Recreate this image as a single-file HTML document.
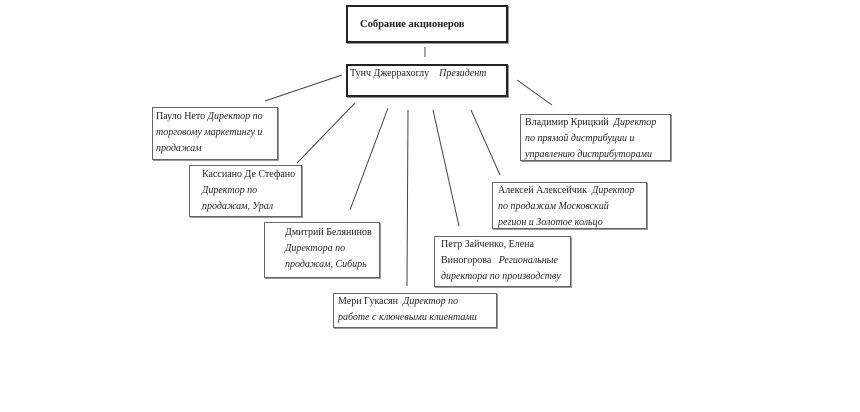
<!DOCTYPE html>
<html><head><meta charset="utf-8"><style>
body{margin:0;width:860px;height:412px;background:#fff;position:relative;overflow:hidden;font-family:"Liberation Serif","Noto Serif CJK SC",serif;color:#222}
.b{position:absolute;border:1px solid #666;box-sizing:border-box;font-size:10px;line-height:16px;padding:1px 3px;box-shadow:1px 1px 0 #999;white-space:nowrap}
i{font-style:italic}
svg{position:absolute;left:0;top:0}
</style></head><body>
<svg width="860" height="412"><g stroke="#444" stroke-width="1" fill="none">
<line x1="425" y1="47" x2="425" y2="57"/>
<line x1="342" y1="75" x2="265" y2="101"/>
<line x1="355" y1="103" x2="297" y2="163"/>
<line x1="388" y1="108" x2="350" y2="210"/>
<line x1="408" y1="110" x2="407" y2="286"/>
<line x1="433" y1="110" x2="459" y2="226"/>
<line x1="471" y1="110" x2="500" y2="175"/>
<line x1="517" y1="80" x2="552" y2="105"/>
</g></svg>
<div class="b" style="left:346px;top:5px;width:162px;height:38px;border:2px solid #222;font-weight:bold;font-size:10.5px;padding:10px 0 0 12px">Собрание акционеров</div>
<div class="b" style="left:346px;top:64px;width:162px;height:33px;border:2px solid #222;padding:0 2px">Тунч Джеррахоглу &nbsp;&nbsp; <i>Президент</i></div>
<div class="b" style="left:152px;top:107px;width:126px;height:53px;padding:1px 3px">Пауло Нето <i>Директор по<br>торговому маркетингу и<br>продажам</i></div>
<div class="b" style="left:189px;top:165px;width:113px;height:52px;padding:1px 0 0 12px">Кассиано Де Стефано<br><i>Директор по<br>продажам, Урал</i></div>
<div class="b" style="left:264px;top:222px;width:116px;height:56px;padding:2px 0 0 20px">Дмитрий Белянинов<br><i>Директора по<br>продажам, Сибирь</i></div>
<div class="b" style="left:333px;top:293px;width:164px;height:35px;padding:0 4px">Мери Гукасян &nbsp;<i>Директор по<br>работе с ключевыми клиентами</i></div>
<div class="b" style="left:434px;top:236px;width:137px;height:51px;padding:0 6px">Петр Зайченко, Елена<br>Виногорова &nbsp; <i>Региональные<br>директора по производству</i></div>
<div class="b" style="left:492px;top:182px;width:155px;height:47px;padding:0 5px">Алексей Алексейчик &nbsp;<i>Директор<br>по продажам Московский<br>регион и Золотое кольцо</i></div>
<div class="b" style="left:520px;top:114px;width:151px;height:47px;padding:0 4px">Владимир Крицкий &nbsp;<i>Директор<br>по прямой дистрибуции и<br>управлению дистрибуторами</i></div>
</body></html>
